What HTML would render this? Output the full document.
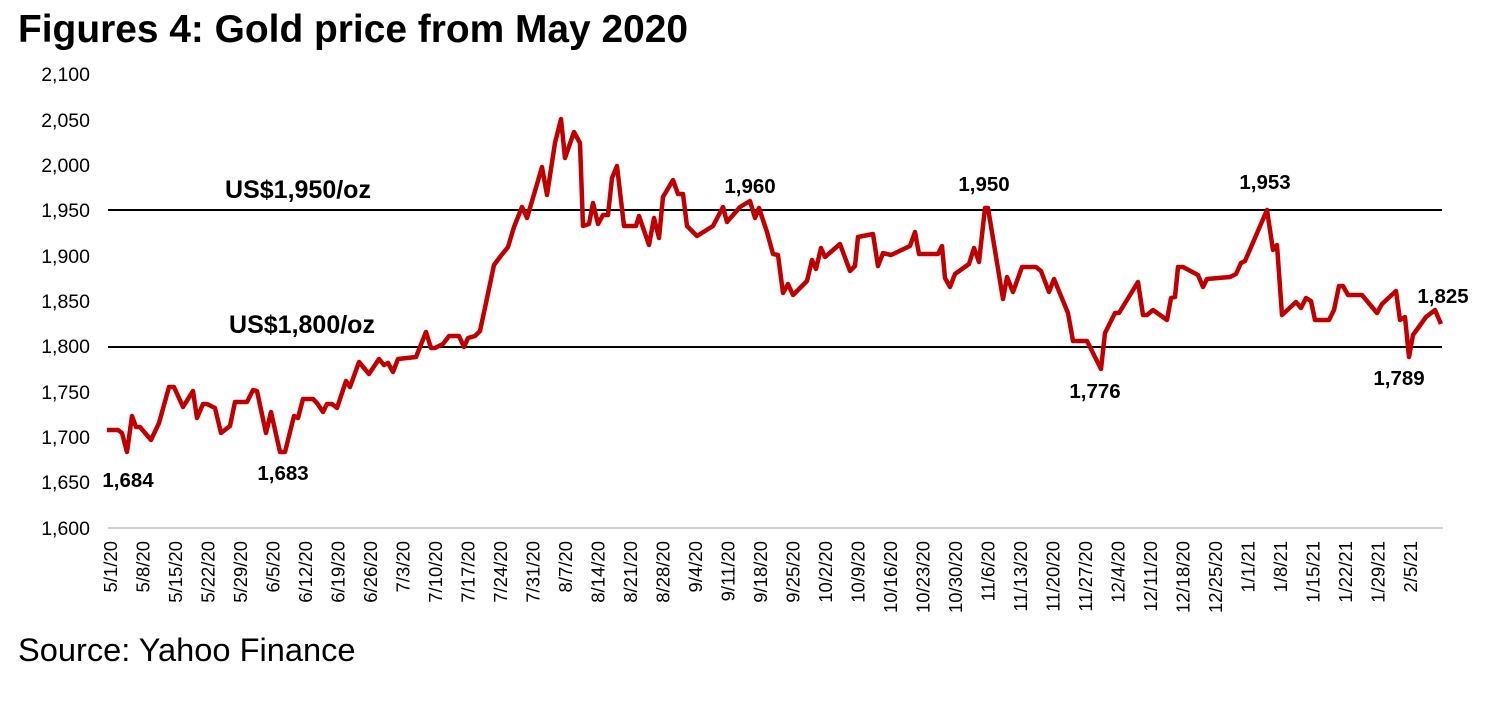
<!DOCTYPE html>
<html><head><meta charset="utf-8"><style>
body{margin:0;background:#fff;width:1486px;height:699px;overflow:hidden;font-family:"Liberation Sans",Arial,sans-serif}
</style></head><body>
<svg width="1486" height="699" xmlns="http://www.w3.org/2000/svg" font-family="Liberation Sans, Arial, sans-serif">
<text x="18" y="42" font-size="38.9" font-weight="bold" fill="#000">Figures 4: Gold price from May 2020</text>
<g font-size="19.5" text-anchor="end" fill="#000">
<text x="90" y="81">2,100</text><text x="90" y="127">2,050</text><text x="90" y="172">2,000</text>
<text x="90" y="217">1,950</text><text x="90" y="263">1,900</text><text x="90" y="308">1,850</text>
<text x="90" y="353">1,800</text><text x="90" y="399">1,750</text><text x="90" y="444">1,700</text>
<text x="90" y="489">1,650</text><text x="90" y="535">1,600</text>
</g>
<line x1="108" y1="528" x2="1443" y2="528" stroke="#d0d0d0" stroke-width="2"/>
<line x1="108" y1="210" x2="1442" y2="210" stroke="#000" stroke-width="2"/>
<line x1="108" y1="347" x2="1442" y2="347" stroke="#000" stroke-width="2"/>
<polyline fill="none" stroke="#c00000" stroke-width="4.5" stroke-linejoin="round" points="107,430 118,430 122,433 127,452 132,416 136,427 140,427 151,440 159,423 169,387 174,387 183,407 193,391 197,418 203,404 207,404 215,408 221,433 230,426 235,402 247,402 253,390 257,391 266,433 271,412 280,452 285,452 294,416 298,418 303,399 313,399 317,403 323,412 327,404 332,404 337,408 346,381 350,387 359,362 369,374 379,359 384,365 388,363 393,372 398,359 416,357 426,332 431,348 435,348 443,344 449,336 459,336 464,347 468,338 475,336 480,331 486,303 494,265 500,257 508,247 514,227 522,207 527,218 535,191 542,167 547,195 555,143 561,119 565,158 574,132 580,143 583,226 589,224 593,203 598,224 603,215 608,215 612,178 617,166 624,226 636,226 639,216 649,245 654,218 659,238 663,197 673,180 678,194 683,194 687,226 697,236 713,226 723,207 727,222 740,207 750,201 755,218 759,208 767,232 773,254 778,255 783,293 788,284 793,295 807,281 812,260 816,269 821,248 825,257 840,244 850,271 855,266 858,237 873,234 878,266 883,253 891,255 910,246 915,232 919,254 938,254 942,246 945,278 950,287 955,274 969,264 974,248 979,262 985,208 988,208 1003,299 1007,277 1013,292 1022,267 1036,267 1041,271 1049,292 1054,279 1068,313 1073,341 1087,341 1101,369 1105,333 1115,313 1119,313 1138,282 1143,315 1147,315 1153,310 1167,320 1171,298 1175,297 1178,267 1183,267 1198,275 1203,287 1207,279 1230,277 1236,274 1241,263 1245,261 1267,210 1273,250 1277,245 1282,315 1296,302 1301,308 1306,298 1311,301 1315,320 1329,320 1334,310 1339,286 1343,286 1348,295 1362,295 1377,313 1382,304 1396,291 1400,320 1405,317 1409,357 1413,335 1426,317 1435,310 1441,324"/>
<g font-weight="bold" fill="#000">
<text x="298" y="198" font-size="25" text-anchor="middle">US$1,950/oz</text>
<text x="302" y="333" font-size="25" text-anchor="middle">US$1,800/oz</text>
<g font-size="20.5" text-anchor="middle">
<text x="128" y="487">1,684</text><text x="283" y="480">1,683</text>
<text x="750" y="193">1,960</text><text x="984" y="191">1,950</text>
<text x="1095" y="398">1,776</text><text x="1265" y="189">1,953</text>
<text x="1399" y="385">1,789</text><text x="1443" y="303">1,825</text>
</g></g>
<g id="xl" font-size="18.5" fill="#000" text-anchor="end"></g>
<text x="18" y="661" font-size="32.6" fill="#000">Source: Yahoo Finance</text>
</svg>
<script>
var L="5/1/20 5/8/20 5/15/20 5/22/20 5/29/20 6/5/20 6/12/20 6/19/20 6/26/20 7/3/20 7/10/20 7/17/20 7/24/20 7/31/20 8/7/20 8/14/20 8/21/20 8/28/20 9/4/20 9/11/20 9/18/20 9/25/20 10/2/20 10/9/20 10/16/20 10/23/20 10/30/20 11/6/20 11/13/20 11/20/20 11/27/20 12/4/20 12/11/20 12/18/20 12/25/20 1/1/21 1/8/21 1/15/21 1/22/21 1/29/21 2/5/21".split(" ");
var g=document.getElementById("xl"),ns="http://www.w3.org/2000/svg";
L.forEach(function(s,i){var x=117+i*32.5;var t=document.createElementNS(ns,"text");t.setAttribute("transform","translate("+x+",541) rotate(-90)");t.textContent=s;g.appendChild(t);});
</script>
</body></html>
